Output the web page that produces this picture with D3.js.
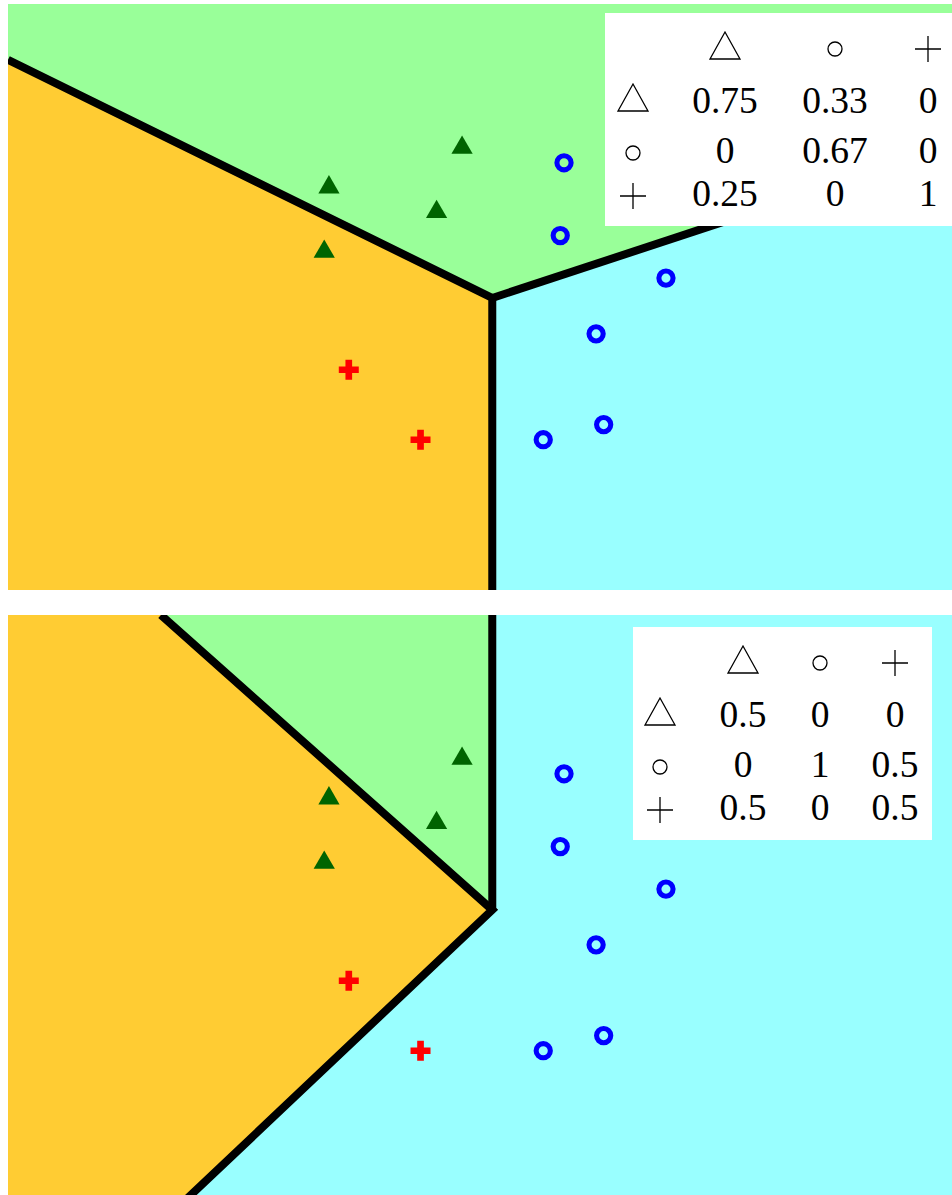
<!DOCTYPE html>
<html>
<head>
<meta charset="utf-8">
<script src="https://cdn.jsdelivr.net/npm/d3@7"></script>
<style>
  html, body { margin: 0; padding: 0; background: #ffffff; }
  svg { display: block; }
</style>
</head>
<body>
<svg id="chart" width="952" height="1195"></svg>
<script>
// Sample points in feature space (x, y)
const trianglePoints = [[4.81, 4.68], [3.40, 4.26], [4.54, 4.00], [3.35, 3.58]];
const circlePoints = [[5.89, 4.52], [5.85, 3.75], [6.97, 3.30], [6.23, 2.71], [5.67, 1.59], [6.31, 1.75]];
const plusPoints = [[3.61, 2.33], [4.37, 1.59]];

// Decision boundaries: a shared vertex and the ends of each boundary ray
const topVertex = [5.13, 3.09];
const topEnds = { left: [0, 5.61], right: [10, 4.69], down: [5.13, 0] };
const bottomVertex = [5.13, 3.08];
const bottomEnds = { upLeft: [1.62, 6.2], up: [5.13, 6.2], downLeft: [1.87, 0] };

// Confusion matrices (rows: true class, columns: predicted class)
const classSymbols = ["triangle", "circle", "plus"];
const matrixTop = [["0.75", "0.33", "0"], ["0", "0.67", "0"], ["0.25", "0", "1"]];
const matrixBottom = [["0.5", "0", "0"], ["0", "1", "0.5"], ["0.5", "0", "0.5"]];

const W = 944, H = 586;
const x = d3.scaleLinear().domain([0, 10]).range([0, W]);
const y = d3.scaleLinear().domain([0, 6.2]).range([H, 0]);
const line = d3.line().x(d => x(d[0])).y(d => y(d[1]));
const area = pts => line(pts) + "Z";

const colors = { green: "#99FF99", orange: "#FFCC33", cyan: "#99FFFF" };

const svg = d3.select("#chart");
const defs = svg.append("defs");
defs.append("clipPath").attr("id", "panelClip")
  .append("rect").attr("width", W).attr("height", H);

function drawPanel(g, regions, boundaries, matrix, box) {
  const body = g.append("g").attr("clip-path", "url(#panelClip)");
  regions.forEach(r => {
    body.append("path").attr("d", area(r.pts)).attr("fill", r.color)
      .attr("stroke", r.color).attr("stroke-width", 0.6);
  });
  boundaries.forEach(b => {
    body.append("path").attr("d", line(b)).attr("fill", "none")
      .attr("stroke", "#000").attr("stroke-width", 8)
      .attr("stroke-linejoin", "miter");
  });

  body.selectAll(".tri").data(trianglePoints).join("path")
    .attr("transform", d => `translate(${x(d[0])},${y(d[1])})`)
    .attr("d", d3.symbol(d3.symbolTriangle, 195)())
    .attr("fill", "#006400");
  body.selectAll(".circ").data(circlePoints).join("circle")
    .attr("cx", d => x(d[0])).attr("cy", d => y(d[1])).attr("r", 7.1)
    .attr("fill", "none").attr("stroke", "#0000FF").attr("stroke-width", 5.1);
  body.selectAll(".plus").data(plusPoints).join("path")
    .attr("transform", d => `translate(${x(d[0])},${y(d[1])})`)
    .attr("d", d3.symbol(d3.symbolCross, 222)())
    .attr("fill", "#FF0000");

  // Confusion matrix table
  const t = body.append("g").attr("transform", `translate(${box.x},${box.y})`);
  t.append("rect").attr("width", box.w).attr("height", 213).attr("fill", "#fff");
  const rowCenters = [36, 86, 140, 183];
  const rowBase = [null, 100, 150, 193];
  const drawSym = (name, cx, cy) => {
    const s = t.append("path").attr("fill", "none").attr("stroke", "#000").attr("stroke-width", 1.3);
    if (name === "triangle") {
      s.attr("d", `M${cx - 15},${cy + 12}L${cx + 15},${cy + 12}L${cx},${cy - 15}Z`);
    } else if (name === "circle") {
      s.attr("d", d3.arc()({ innerRadius: 0, outerRadius: 7, startAngle: 0, endAngle: 2 * Math.PI }))
        .attr("transform", `translate(${cx},${cy})`);
    } else {
      s.attr("d", `M${cx - 13},${cy}L${cx + 13},${cy}M${cx},${cy - 13}L${cx},${cy + 13}`);
    }
  };
  classSymbols.forEach((c, j) => drawSym(c, box.cols[j + 1], rowCenters[0] - (c === "triangle" ? 2 : 0)));
  classSymbols.forEach((c, i) => drawSym(c, box.cols[0], rowCenters[i + 1]));
  matrix.forEach((row, i) => {
    row.forEach((v, j) => {
      t.append("text").attr("x", box.cols[j + 1]).attr("y", rowBase[i + 1])
        .attr("text-anchor", "middle")
        .attr("font-family", "'Liberation Serif', 'DejaVu Serif', serif")
        .attr("font-size", 37.5).attr("fill", "#000").text(v);
    });
  });
}

const gTop = svg.append("g").attr("transform", "translate(8,4)");
drawPanel(gTop,
  [
    { color: colors.orange, pts: [[0, 0], topEnds.left, topVertex, topEnds.down] },
    { color: colors.green, pts: [topEnds.left, [0, 6.2], [10, 6.2], topEnds.right, topVertex] },
    { color: colors.cyan, pts: [topVertex, topEnds.right, [10, 0], topEnds.down] }
  ],
  [[topEnds.left, topVertex, topEnds.down], [topVertex, topEnds.right]],
  matrixTop,
  { x: 597, y: 9, w: 360, cols: [28, 120, 230, 323] }
);

const gBottom = svg.append("g").attr("transform", "translate(8,615)");
drawPanel(gBottom,
  [
    { color: colors.green, pts: [bottomEnds.upLeft, bottomEnds.up, bottomVertex] },
    { color: colors.orange, pts: [[0, 0], [0, 6.2], bottomEnds.upLeft, bottomVertex, bottomEnds.downLeft] },
    { color: colors.cyan, pts: [bottomVertex, bottomEnds.up, [10, 6.2], [10, 0], bottomEnds.downLeft] }
  ],
  [[bottomEnds.upLeft, bottomVertex, bottomEnds.downLeft], [bottomVertex, bottomEnds.up]],
  matrixBottom,
  { x: 625, y: 12, w: 299, cols: [27, 110, 187, 262] }
);
</script>
</body>
</html>
